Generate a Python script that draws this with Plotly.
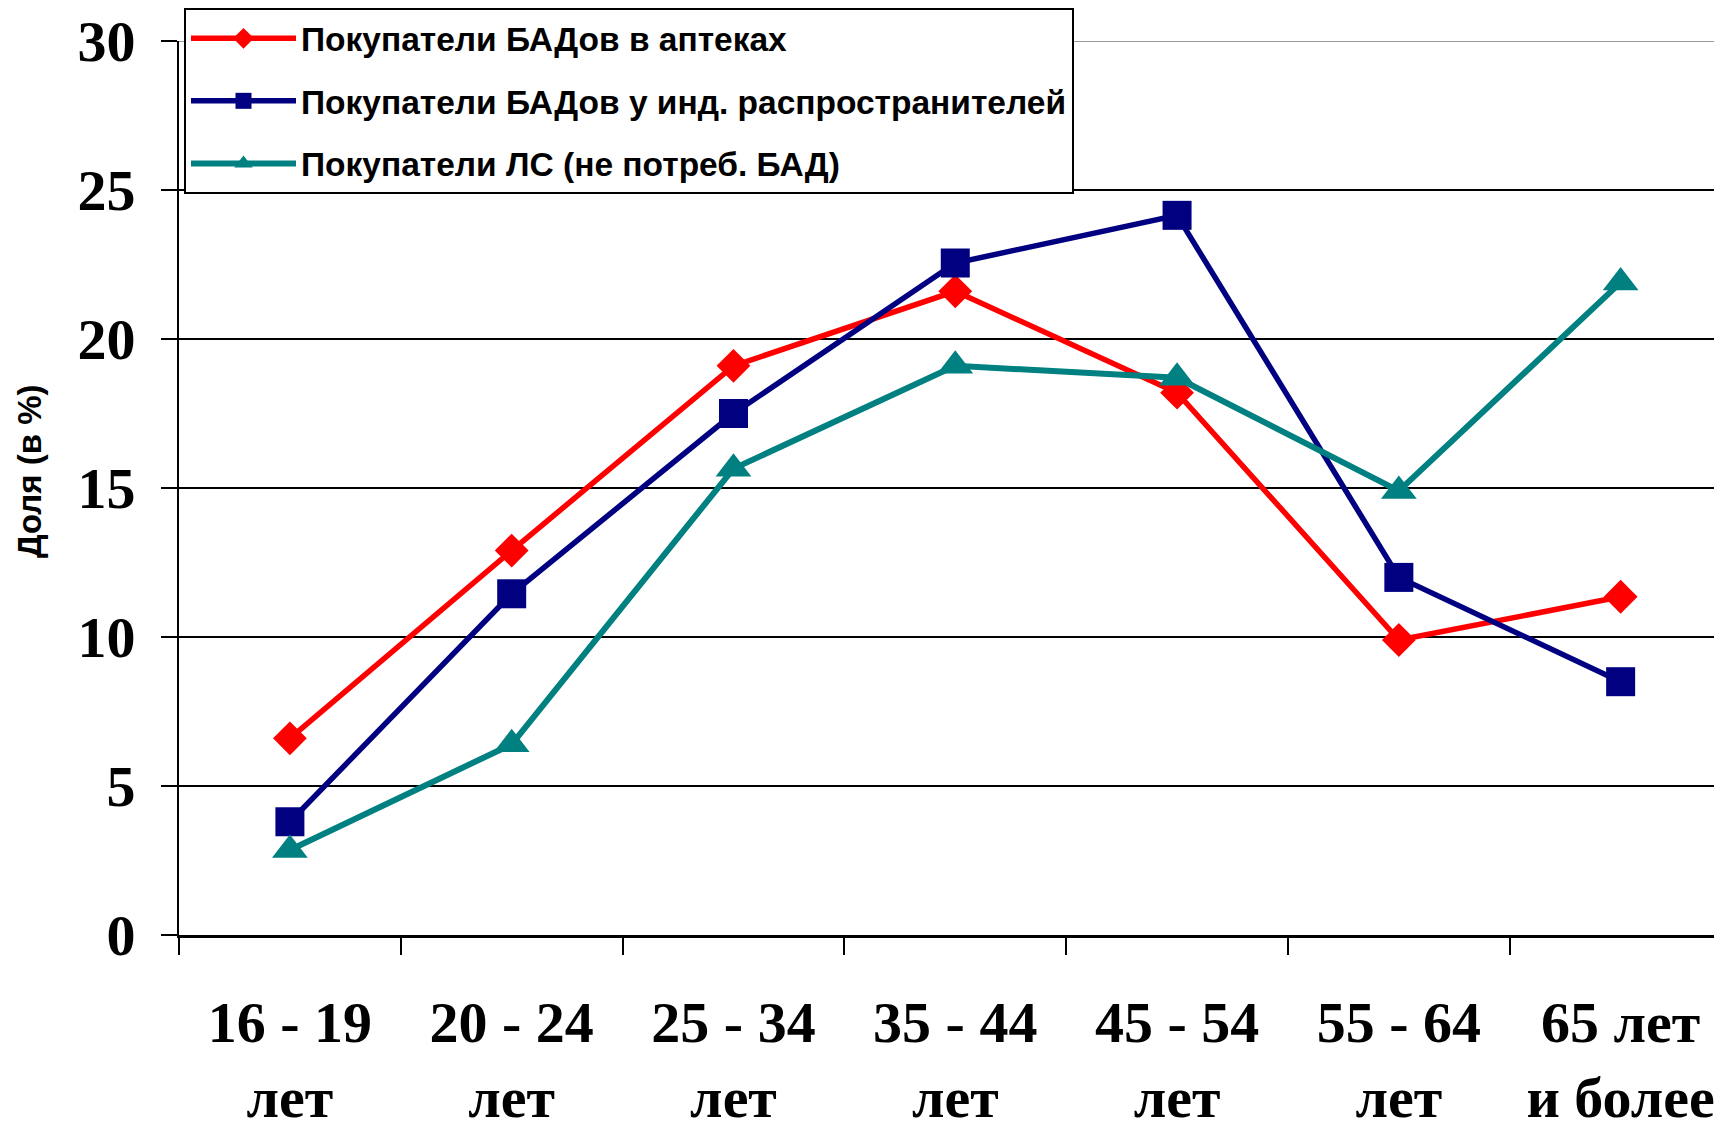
import plotly.graph_objects as go

categories = ["16 - 19<br>лет", "20 - 24<br>лет", "25 - 34<br>лет", "35 - 44<br>лет",
              "45 - 54<br>лет", "55 - 64<br>лет", "65 лет<br>и более"]
series_names = ["Покупатели БАДов в аптеках",
                "Покупатели БАДов у инд. распространителей",
                "Покупатели ЛС (не потреб. БАД)"]
pharmacy = [6.6, 12.9, 19.1, 21.6, 18.2, 9.9, 11.35]
distributors = [3.8, 11.45, 17.5, 22.55, 24.15, 12.0, 8.5]
drugs_only = [2.85, 6.4, 15.65, 19.1, 18.7, 14.9, 21.9]
y_ticks = [0, 5, 10, 15, 20, 25, 30]
y_title = "Доля (в %)"

SANS = "Arial, Liberation Sans, sans-serif"
SERIF = "Times New Roman, Liberation Serif, serif"

# the page body adds an 8px offset; the figure is sized to fill the rest of the window
W, H = 1714, 1116
ML, MT, MB = 171, 33, 189
plot_w = W - ML
plot_h = H - MT - MB

fig = go.Figure()
styles = [
    (pharmacy, "#FF0000", "diamond", 26, 5.5),
    (distributors, "#000080", "square", 29, 5.5),
    (drugs_only, "#008080", "triangle-up", 31, 6),
]
for i, (vals, color, sym, size, width) in enumerate(styles):
    fig.add_trace(go.Scatter(
        x=categories, y=vals, name=series_names[i], mode="lines+markers",
        line=dict(color=color, width=width),
        marker=dict(symbol=sym, size=size, color=color),
        legendgroup=f"g{i}",
    ))

fig.add_shape(type="line", xref="paper", yref="y", x0=0, x1=1, y0=30, y1=30,
              line=dict(color="#999999", width=2), layer="above")

fig.add_annotation(text=y_title, xref="paper", yref="paper",
                   x=(22 - ML) / plot_w, y=0.518, xanchor="center", yanchor="middle",
                   textangle=-90, showarrow=False,
                   font=dict(family=SANS, size=33, color="black", weight="bold"))

fig.update_layout(
    width=W, height=H,
    margin=dict(l=ML, r=0, t=MT, b=MB, pad=0),
    plot_bgcolor="white", paper_bgcolor="white",
    showlegend=True,
    legend=dict(
        x=(176 - ML) / plot_w, y=1 + (MT - 0) / plot_h, xanchor="left", yanchor="top",
        bgcolor="white", bordercolor="black", borderwidth=2,
        font=dict(family=SANS, size=33.5, color="black", weight="bold"),
        traceorder="grouped", tracegroupgap=16,
        itemwidth=105,
    ),
    xaxis=dict(
        type="category", range=[-0.5, 6.457], automargin=False,
        showline=True, linecolor="black", linewidth=3,
        ticks="outside", tickson="boundaries", ticklen=17, tickwidth=2, tickcolor="black",
        tickfont=dict(family=SERIF, size=58, color="black", weight="bold"),
        ticklabelstandoff=34,
        showgrid=False, zeroline=False,
    ),
    yaxis=dict(
        range=[0, 30], tickvals=y_ticks, automargin=False,
        showline=True, linecolor="black", linewidth=2,
        ticks="outside", ticklen=16, tickwidth=2, tickcolor="black",
        tickfont=dict(family=SERIF, size=58, color="black", weight="bold"),
        ticklabelstandoff=14,
        showgrid=True, gridcolor="black", gridwidth=2,
        zeroline=False,
    ),
)
fig.write_html("out.html")
